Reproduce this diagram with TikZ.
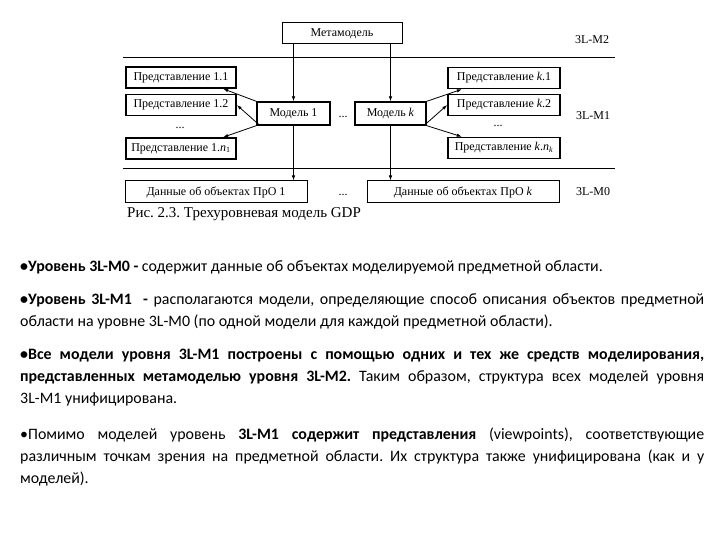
\documentclass[tikz,border=0pt]{standalone}
\usepackage{fontspec}
\setmainfont{Carlito}
\newfontfamily\figfont{Liberation Serif}
\usetikzlibrary{arrows.meta,positioning}
\hyphenpenalty=10000
\exhyphenpenalty=10000
\frenchspacing

\begin{document}
\begin{tikzpicture}[
  x=1pt,y=-1pt,
  font=\figfont\fontsize{12}{14}\selectfont,
  box/.style={draw,line width=1pt,inner sep=0pt,minimum height=21pt},
  view/.style={box,line width=1.6pt,minimum width=110pt},
  model/.style={box,line width=1.3pt,minimum height=23pt},
  link/.style={-{Latex[length=5pt,width=3.5pt]},line width=.8pt},
  lab/.style={inner sep=0pt},
  para/.style={anchor=north west,inner sep=0pt,text width=684pt,
    align=justify,font=\normalfont\fontsize{15.9}{22}\selectfont}
]
\useasboundingbox (0,0) rectangle (720,540);

% Three levels, split by two rules
\coordinate (rule2-l) at (123,58);
\coordinate (rule2-r) at (615,58);
\coordinate (rule1-l) at (123,169);
\coordinate (rule1-r) at (615,169);
\draw[line width=1pt] (rule2-l) -- (rule2-r);
\draw[line width=1pt] (rule1-l) -- (rule1-r);

% Level 3L-M2
\node[box,minimum width=120pt] (meta) at (342,33.5) {Метамодель};
\node[lab] (lvl-m2) at (592,40) {3L-M2};

% Level 3L-M1: models and their viewpoints
\node[model,minimum width=73pt] (model-1) at (293.5,113.5) {Модель 1};
\node[model,minimum width=71pt] (model-k) at (390.5,113.5) {Модель \textit{k}};
\node[lab] (dots-m) at (343,117) {...};
\node[view] (view-11) at (181,77.5) {Представление 1.1};
\node[view] (view-12) at (181,105) {Представление 1.2};
\node[lab] (dots-1) at (180,128) {...};
\node[view] (view-1n) at (181,148.5)
  {Представление 1.\textit{n}\textsubscript{1}};
\node[view,minimum width=112pt] (view-k1) at (504,78)
  {Представление \textit{k}.1};
\node[view,minimum width=112pt] (view-k2) at (504,105)
  {Представление \textit{k}.2};
\node[lab] (dots-k) at (498,126) {...};
\node[view,minimum width=112pt] (view-kn) at (504,148)
  {Представление \textit{k}.\textit{n}\textsubscript{\textit{k}}};
\node[lab] (lvl-m1) at (593,116) {3L-M1};

% Level 3L-M0
\node[box,minimum width=182pt,minimum height=22pt] (data-1) at (216,192)
  {Данные об объектах ПрО 1};
\node[box,minimum width=192pt,minimum height=22pt] (data-k) at (463,192)
  {Данные об объектах ПрО \textit{k}};
\node[lab] (dots-d) at (343,195) {...};
\node[lab] (lvl-m0) at (593,192) {3L-M0};
\node[lab,anchor=west,font=\figfont\fontsize{15}{18}\selectfont]
  (caption) at (127,214) {Рис. 2.3. Трехуровневая модель GDP};

\draw[link] (meta.south -| model-1) -- (model-1.north);
\draw[link] (meta.south -| model-k) -- (model-k.north);
\draw[link] (model-1.south) -- (model-1.south |- data-1.north);
\draw[link] (model-k.south) -- (model-k.south |- data-k.north);
\draw[link] (model-1.north west) -- (view-11.-15);
\draw[link] (model-1.200) -- (view-12.east);
\draw[link] (model-1.south west) -- (view-1n.15);
\draw[link] (model-k.north east) -- (view-k1.195);
\draw[link] (model-k.-20) -- (view-k2.west);
\draw[link] (model-k.south east) -- (view-kn.165);

% Notes under the figure
\node[para] (note-0) at (20,260)
  {\textbf{•Уровень 3L-M0 -} содержит данные об объектах моделируемой
  предметной области.};
\node[para] (note-1) at (20,293)
  {\textbf{•Уровень 3L-M1 \ -} располагаются модели, определяющие способ
  описания объектов предметной\linebreak области на уровне 3L-M0 (по одной
  модели для каждой предметной области).};
\node[para] (note-2) at (20,349)
  {\textbf{•Все модели уровня 3L-M1 построены с помощью одних и тех же
  средств моделирования,\linebreak представленных метамоделью уровня 3L-M2.}
  Таким образом, структура всех моделей уровня\linebreak 3L-M1
  унифицирована.};
\node[para] (note-3) at (20,428)
  {•Помимо моделей уровень \textbf{3L-M1 содержит представления}
  (viewpoints), соответствующие\linebreak различным точкам зрения на
  предметной области. Их структура также унифицирована (как и
  у\linebreak моделей).};
\end{tikzpicture}
\end{document}
